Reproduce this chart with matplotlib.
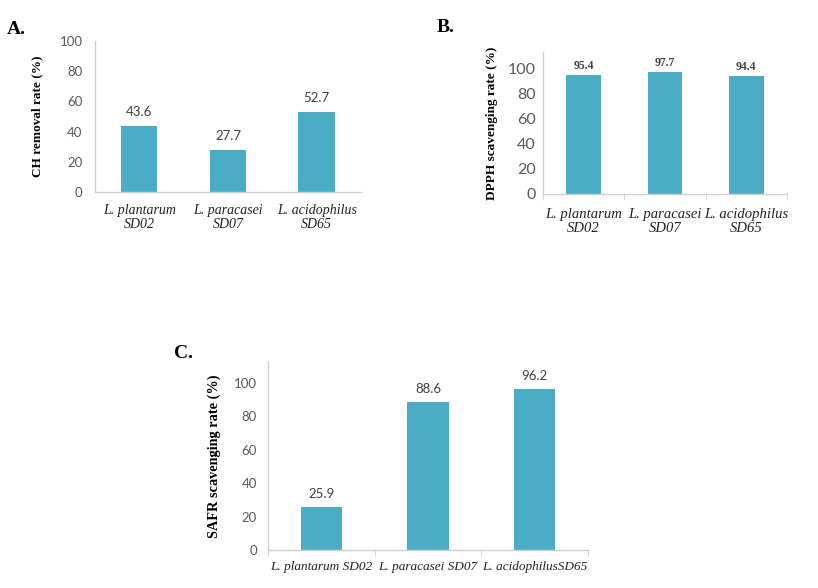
import matplotlib.pyplot as plt
import numpy as np

# data
strains_two_lines = ["L. plantarum\nSD02", "L. paracasei\nSD07", "L. acidophilus\nSD65"]
strains_one_line = ["L. plantarum SD02", "L. paracasei SD07", "L. acidophilusSD65"]
ch_removal = [43.6, 27.7, 52.7]
dpph_scav = [95.4, 97.7, 94.4]
safr_scav = [25.9, 88.6, 96.2]

bar_color = "#4BACC6"
axis_color = "#D0D0D0"
tick_color = "#595959"
serif = "Liberation Serif"
sans = "Lato"

fig = plt.figure(figsize=(8.18, 5.88), dpi=100)


def panel(rect, values, labels, ylabel, ymax, yticks, width, xticks_marks,
          val_font, val_size, val_weight, val_off, tick_size, tick_pad,
          xlab_size, xlab_pad, ylab_size, ylab_pad):
    ax = fig.add_axes(rect)
    x = np.arange(len(values))
    ax.bar(x, values, width=width, color=bar_color, zorder=2)
    ax.set_xlim(-0.5, len(values) - 0.5)
    ax.set_ylim(0, ymax)
    ax.set_yticks(yticks)
    ax.set_yticklabels([str(t) for t in yticks], fontfamily=sans,
                       fontsize=tick_size, color=tick_color)
    ax.set_xticks(x)
    ax.set_xticklabels(labels, fontfamily=serif, style="italic",
                       fontsize=xlab_size, color="#222222", linespacing=1.1)
    ax.tick_params(axis="x", length=0, pad=xlab_pad)
    ax.tick_params(axis="y", length=0, pad=tick_pad)
    if xticks_marks:
        ax.set_xticks(np.arange(-0.5, len(values)), minor=True)
        ax.tick_params(axis="x", which="minor", length=4, color=axis_color)
    for s in ["top", "right"]:
        ax.spines[s].set_visible(False)
    for s in ["left", "bottom"]:
        ax.spines[s].set_color(axis_color)
        ax.spines[s].set_linewidth(1.0)
    ax.set_ylabel(ylabel, fontfamily=serif, fontweight="bold",
                  fontsize=ylab_size, color="black", labelpad=ylab_pad)
    for xi, v in zip(x, values):
        ax.annotate(f"{v:.1f}", (xi, v), xytext=(0, val_off), textcoords="offset points",
                    ha="center", va="bottom", fontfamily=val_font,
                    fontsize=val_size, fontweight=val_weight, color="#404040")
    return ax


panel([0.1161, 0.6735, 0.3252, 0.2568], ch_removal, strains_two_lines,
      "CH removal rate (%)", 100, [0, 20, 40, 60, 80, 100], 0.41, False,
      sans, 9.5, "normal", 6, 9.5, 9, 10, 9, 9.5, 12)

panel([0.6638, 0.6701, 0.2983, 0.2415], dpph_scav, strains_two_lines,
      "DPPH scavenging rate (%)", 113.6, [0, 20, 40, 60, 80, 100], 0.43, True,
      serif, 8.5, "bold", 2, 11.5, 5, 10.5, 10, 9.5, 7)

panel([0.3276, 0.0646, 0.3912, 0.3197], safr_scav, strains_one_line,
      "SAFR scavenging rate (%)", 112.6, [0, 20, 40, 60, 80, 100], 0.39, True,
      sans, 9.5, "normal", 5, 9.5, 8, 9.5, 8, 10.3, 9)

fig.text(7 / 818, 1 - 30 / 588, "A.", fontfamily=serif, fontweight="bold",
         fontsize=14, va="center", ha="left")
fig.text(437 / 818, 1 - 28 / 588, "B.", fontfamily=serif, fontweight="bold",
         fontsize=14, va="center", ha="left")
fig.text(174 / 818, 1 - 353 / 588, "C.", fontfamily=serif, fontweight="bold",
         fontsize=14, va="center", ha="left")

fig.savefig("out.png", dpi=100)
